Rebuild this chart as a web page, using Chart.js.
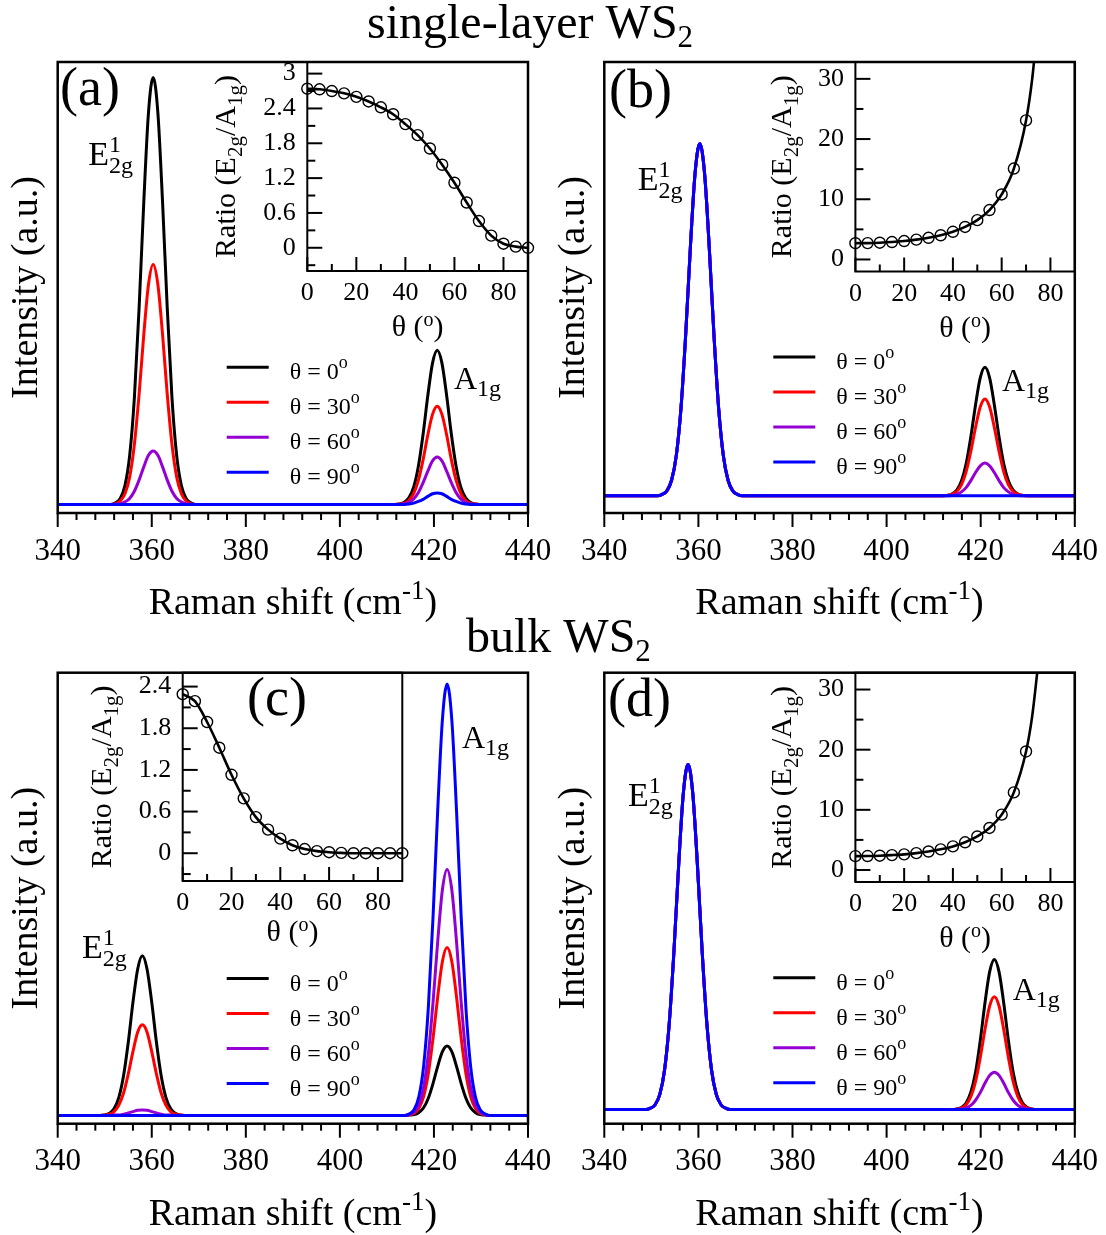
<!DOCTYPE html>
<html><head><meta charset="utf-8">
<script src="https://cdn.jsdelivr.net/npm/chart.js@4.4.1/dist/chart.umd.min.js"></script>
<style>
html,body{margin:0;padding:0;background:#fff;}
#wrap{position:relative;width:1106px;height:1235px;overflow:hidden;background:#fff;}
#wrap canvas{position:absolute;left:0;top:0;}
</style></head><body><div id="wrap"></div>
<script>
const FONT = '"Liberation Serif", "Times New Roman", serif';
const legendAngles = ['0', '30', '60', '90'];
const seriesColors = ['#000000', '#ff0000', '#9400d3', '#0000ff'];
const shiftTicks = [340, 360, 380, 400, 420, 440];
const thetaTicks = [0, 20, 40, 60, 80];

// ---- panel (a) single-layer, A1g at 420.7
const shiftA = [340, 351.3,352.3,353.3,354.3,355.3,356.3,357.3,358.3,359.3,360.3,361.3,362.3,363.3,364.3,365.3,366.3,367.3,368.3,369.3, 411.7,412.7,413.7,414.7,415.7,416.7,417.7,418.7,419.7,420.7,421.7,422.7,423.7,424.7,425.7,426.7,427.7,428.7,429.7, 440];
const a_t0  = [0, 0,.004,.014,.044,.114,.249,.458,.707,.917,1,.917,.707,.458,.249,.114,.044,.014,.004,0, 0,.001,.005,.016,.041,.090,.165,.255,.331,.361,.331,.255,.165,.090,.041,.016,.005,.001,0, 0];
const a_t30 = [0, 0,.002,.008,.025,.064,.140,.257,.397,.515,.562,.515,.397,.257,.140,.064,.025,.008,.002,0, 0,.001,.003,.010,.026,.057,.105,.163,.211,.230,.211,.163,.105,.057,.026,.010,.003,.001,0, 0];
const a_t60 = [0, 0,.001,.002,.006,.014,.031,.057,.088,.115,.125,.115,.088,.057,.031,.014,.006,.002,.001,0, 0,0,.002,.005,.013,.028,.051,.078,.102,.111,.102,.078,.051,.028,.013,.005,.002,0,0, 0];
const a_t90 = [0, 0,0,0,0,0,0,0,0,0,0,0,0,0,0,0,0,0,0,0, 0,0,0,.001,.003,.007,.012,.019,.025,.027,.025,.019,.012,.007,.003,.001,0,0,0, 0];

// ---- panel (b) single-layer
const shiftB = [340, 351.3,352.3,353.3,354.3,355.3,356.3,357.3,358.3,359.3,360.3,361.3,362.3,363.3,364.3,365.3,366.3,367.3,368.3,369.3, 411.9,412.9,413.9,414.9,415.9,416.9,417.9,418.9,419.9,420.9,421.9,422.9,423.9,424.9,425.9,426.9,427.9,428.9,429.9, 440];
const b_t0  = [0, 0,.004,.014,.044,.114,.249,.458,.707,.917,1,.917,.707,.458,.249,.114,.044,.014,.004,0, 0,.001,.005,.016,.042,.091,.167,.258,.335,.365,.335,.258,.167,.091,.042,.016,.005,.001,0, 0];
const b_t30 = [0, 0,.004,.014,.044,.114,.249,.458,.707,.917,1,.917,.707,.458,.249,.114,.044,.014,.004,0, 0,.001,.004,.012,.031,.068,.126,.194,.252,.275,.252,.194,.126,.068,.031,.012,.004,.001,0, 0];
const b_t60 = [0, 0,.004,.014,.044,.114,.249,.458,.707,.917,1,.917,.707,.458,.249,.114,.044,.014,.004,0, 0,0,.001,.004,.011,.023,.043,.066,.085,.093,.085,.066,.043,.023,.011,.004,.001,0,0, 0];
const b_t90 = [0, 0,.004,.014,.044,.114,.249,.458,.707,.917,1,.917,.707,.458,.249,.114,.044,.014,.004,0, 0,0,0,0,0,0,0,0,0,0,0,0,0,0,0,0,0,0,0, 0];

// ---- panel (c) bulk
const shiftC = [340, 349,350,351,352,353,354,355,356,357,358,359,360,361,362,363,364,365,366,367, 413.8,414.8,415.8,416.8,417.8,418.8,419.8,420.8,421.8,422.8,423.8,424.8,425.8,426.8,427.8,428.8,429.8,430.8,431.8, 440];
const c_t0  = [0, 0,.001,.005,.016,.042,.092,.169,.262,.339,.370,.339,.262,.169,.092,.042,.016,.005,.001,0, 0,.001,.002,.007,.018,.040,.074,.114,.148,.161,.148,.114,.074,.040,.018,.007,.002,.001,0, 0];
const c_t30 = [0, 0,.001,.003,.009,.024,.052,.096,.148,.193,.210,.193,.148,.096,.052,.024,.009,.003,.001,0, 0,.002,.005,.017,.044,.097,.178,.275,.357,.389,.357,.275,.178,.097,.044,.017,.005,.002,0, 0];
const c_t60 = [0, 0,0,0,.001,.001,.003,.006,.009,.012,.013,.012,.009,.006,.003,.001,.001,0,0,0, 0,.002,.008,.025,.065,.142,.261,.403,.523,.570,.523,.403,.261,.142,.065,.025,.008,.002,0, 0];
const c_t90 = [0, 0,0,0,0,0,0,0,0,0,0,0,0,0,0,0,0,0,0,0, 0,.004,.014,.044,.114,.249,.458,.707,.917,1,.917,.707,.458,.249,.114,.044,.014,.004,0, 0];

// ---- panel (d) bulk
const shiftD = [340, 348.8,349.8,350.8,351.8,352.8,353.8,354.8,355.8,356.8,357.8,358.8,359.8,360.8,361.8,362.8,363.8,364.8,365.8,366.8, 413.9,414.9,415.9,416.9,417.9,418.9,419.9,420.9,421.9,422.9,423.9,424.9,425.9,426.9,427.9,428.9,429.9,430.9,431.9, 440];
const d_t0  = [0, 0,.004,.014,.044,.114,.249,.458,.707,.917,1,.917,.707,.458,.249,.114,.044,.014,.004,0, 0,.002,.006,.019,.050,.108,.199,.308,.399,.435,.399,.308,.199,.108,.050,.019,.006,.002,0, 0];
const d_t30 = [0, 0,.004,.014,.044,.114,.249,.458,.707,.917,1,.917,.707,.458,.249,.114,.044,.014,.004,0, 0,.001,.005,.014,.037,.081,.150,.231,.300,.327,.300,.231,.150,.081,.037,.014,.005,.001,0, 0];
const d_t60 = [0, 0,.004,.014,.044,.114,.249,.458,.707,.917,1,.917,.707,.458,.249,.114,.044,.014,.004,0, 0,0,.002,.005,.012,.027,.049,.076,.099,.108,.099,.076,.049,.027,.012,.005,.002,0,0, 0];
const d_t90 = [0, 0,.004,.014,.044,.114,.249,.458,.707,.917,1,.917,.707,.458,.249,.114,.044,.014,.004,0, 0,0,0,0,0,0,0,0,0,0,0,0,0,0,0,0,0,0,0, 0];

// ---- insets: ratio E2g/A1g vs theta
const thetaAC = [0,5,10,15,20,25,30,35,40,45,50,55,60,65,70,75,80,85,90];
const ratioA  = [2.74,2.73,2.70,2.66,2.60,2.52,2.42,2.30,2.13,1.94,1.71,1.43,1.12,0.78,0.46,0.21,0.07,0.02,0.00];
const ratioC  = [2.29,2.19,1.89,1.52,1.13,0.79,0.52,0.34,0.21,0.115,0.06,0.03,0.015,0.005,0,0,0,0,0];
const thetaBD = [0,5,10,15,20,25,30,35,40,45,50,55,60,65,70];
const ratioB  = [2.70,2.72,2.78,2.89,3.06,3.29,3.60,4.02,4.60,5.40,6.53,8.21,10.8,15.1,23.1];
const ratioD  = [2.30,2.32,2.37,2.47,2.60,2.80,3.07,3.43,3.92,4.60,5.57,6.99,9.20,12.9,19.7];
const fitExtraTheta = [72.5, 75];
const fitExtraB = [29.9, 40.3];
const fitExtraD = [25.5, 34.3];
const yTicksA = [0, 0.6, 1.2, 1.8, 2.4, 3];
const yLabelsA = ['0', '0.6', '1.2', '1.8', '2.4', '3'];
const yTicksC = [0, 0.6, 1.2, 1.8, 2.4];
const yLabelsC = ['0', '0.6', '1.2', '1.8', '2.4'];
const yTicksBD = [0, 10, 20, 30];
const yLabelsBD = ['0', '10', '20', '30'];

// ---------------------------------------------------------------
const W = 1106, H = 1235;
const wrap = document.getElementById('wrap');
function newCanvas() {
  const c = document.createElement('canvas');
  c.width = W; c.height = H; c.style.width = W + 'px'; c.style.height = H + 'px';
  wrap.appendChild(c); return c;
}
function xy(xs, ys) { return xs.map((x, i) => ({ x: x, y: ys[i] })); }

function rich(ctx, x, y, parts, align) {
  let total = 0;
  const ws = parts.map(p => { ctx.font = p.s + 'px ' + FONT; const w = ctx.measureText(p.t).width; if (!p.hold) total += w; return w; });
  let cx = align === 'center' ? x - total / 2 : (align === 'right' ? x - total : x);
  ctx.textAlign = 'left'; ctx.textBaseline = 'alphabetic'; ctx.fillStyle = '#000';
  parts.forEach((p, i) => { ctx.font = p.s + 'px ' + FONT; ctx.fillText(p.t, cx, y + (p.dy || 0)); if (!p.hold) cx += ws[i]; });
}
function richRot(ctx, x, y, parts) {
  ctx.save(); ctx.translate(x, y); ctx.rotate(-Math.PI / 2); rich(ctx, 0, 0, parts, 'center'); ctx.restore();
}
function seg(ctx, x1, y1, x2, y2) { ctx.beginPath(); ctx.moveTo(x1, y1); ctx.lineTo(x2, y2); ctx.stroke(); }

const panels = [
  { L: 57.7, R: 528, T: 62, B: 513, ymin: -0.020, ymax: 1.036, shift: shiftA, series: [a_t0, a_t30, a_t60, a_t90],
    tag: { t: '(a)', x: 60, y: 105 }, E: { x: 88.3, y: 165 }, A: { x: 454, y: 389 }, legY: 367.3,
    head: { t: 'single-layer WS', x: 367, y: 38 } },
  { L: 604.3, R: 1074.8, T: 62, B: 513, ymin: -0.049, ymax: 1.232, shift: shiftB, series: [b_t0, b_t30, b_t60, b_t90],
    tag: { t: '(b)', x: 609, y: 107 }, E: { x: 637.7, y: 190 }, A: { x: 1002, y: 391 }, legY: 357 },
  { L: 57.7, R: 528, T: 672.7, B: 1123.7, ymin: -0.019, ymax: 1.026, shift: shiftC, series: [c_t0, c_t30, c_t60, c_t90],
    tag: { t: '(c)', x: 247, y: 715 }, E: { x: 81.9, y: 958 }, A: { x: 462, y: 748 }, legY: 978.5,
    head: { t: 'bulk WS', x: 466, y: 652 } },
  { L: 604.3, R: 1074.8, T: 672.7, B: 1123.7, ymin: -0.041, ymax: 1.266, shift: shiftD, series: [d_t0, d_t30, d_t60, d_t90],
    tag: { t: '(d)', x: 608, y: 716 }, E: { x: 628.1, y: 806 }, A: { x: 1012.7, y: 1000 }, legY: 977.8 }
];

panels.forEach(p => {
  const decor = {
    id: 'decor',
    afterDraw(chart) {
      const ctx = chart.ctx, a = chart.chartArea, xs = chart.scales.x;
      ctx.save();
      ctx.strokeStyle = '#000'; ctx.lineWidth = 2; ctx.lineCap = 'butt';
      for (let v = 340; v <= 440; v += 4) {
        const px = xs.getPixelForValue(v);
        const major = shiftTicks.indexOf(v) >= 0;
        seg(ctx, px, a.bottom, px, a.bottom + (major ? 14 : 7));
      }
      ctx.lineWidth = 2.5;
      ctx.strokeRect(a.left, a.top, a.right - a.left, a.bottom - a.top);
      // legend
      chart.data.datasets.forEach((ds, i) => {
        const y = p.legY + i * 35;
        ctx.strokeStyle = ds.borderColor; ctx.lineWidth = 3;
        seg(ctx, a.left + 169, y, a.left + 211, y);
        rich(ctx, a.left + 232, y + 12, [{ t: 'θ = ' + legendAngles[i], s: 24 }, { t: 'o', s: 18, dy: -11 }], 'left');
      });
      // labels
      rich(ctx, p.tag.x, p.tag.y, [{ t: p.tag.t, s: 54 }], 'left');
      rich(ctx, p.E.x, p.E.y, [{ t: 'E', s: 34 }, { t: '1', s: 24, dy: -13, hold: true }, { t: '2g', s: 24, dy: 8 }], 'left');
      rich(ctx, p.A.x, p.A.y, [{ t: 'A', s: 32 }, { t: '1g', s: 24, dy: 7 }], 'left');
      rich(ctx, (a.left + a.right) / 2, a.bottom + 101, [{ t: 'Raman shift (cm', s: 38 }, { t: '-1', s: 27, dy: -15 }, { t: ')', s: 38 }], 'center');
      richRot(ctx, a.left - 20.5, (a.top + a.bottom) / 2, [{ t: 'Intensity (a.u.)', s: 38 }]);
      if (p.head) rich(ctx, p.head.x, p.head.y, [{ t: p.head.t, s: 48 }, { t: '2', s: 31, dy: 9 }], 'left');
      ctx.restore();
    }
  };
  new Chart(newCanvas(), {
    type: 'line',
    data: {
      datasets: p.series.map((ys, i) => ({
        label: 'θ = ' + legendAngles[i] + '°', data: xy(p.shift, ys), borderColor: seriesColors[i],
        borderWidth: 3, pointRadius: 0, cubicInterpolationMode: 'monotone', fill: false, order: 4 - i
      }))
    },
    options: {
      responsive: false, animation: false, devicePixelRatio: 1,
      layout: { padding: { left: p.L, top: p.T, right: W - p.R, bottom: H - p.B - 60 } },
      plugins: { legend: { display: false }, tooltip: { enabled: false } },
      scales: {
        x: {
          type: 'linear', min: 340, max: 440,
          afterBuildTicks: s => { s.ticks = shiftTicks.map(v => ({ value: v })); },
          afterFit: s => { s.height = 60; },
          ticks: { font: { family: FONT, size: 31 }, color: '#000', padding: 0, maxRotation: 0, autoSkip: false },
          grid: { display: false, drawTicks: true, tickLength: 20 }, border: { display: false }
        },
        y: { type: 'linear', display: false, min: p.ymin, max: p.ymax }
      }
    },
    plugins: [decor]
  });
});

const insets = [
  { L: 307.3, R: 528, T: 62, B: 271, ymin: -0.4, ymax: 3.2, yt: yTicksA, yl: yLabelsA, minor: 0.3,
    th: thetaAC, r: ratioA, fth: thetaAC, fr: ratioA, tdx: 72.5, tdy: 65 },
  { L: 855.4, R: 1074.8, T: 62, B: 271.5, ymin: -2, ymax: 32.8, yt: yTicksBD, yl: yLabelsBD, minor: 5,
    th: thetaBD, r: ratioB, fth: thetaBD.concat(fitExtraTheta), fr: ratioB.concat(fitExtraB), tdx: 64.7, tdy: 65 },
  { L: 182.7, R: 402.3, T: 672.7, B: 881, ymin: -0.4, ymax: 2.6, yt: yTicksC, yl: yLabelsC, minor: 0.3,
    th: thetaAC, r: ratioC, fth: thetaAC, fr: ratioC, tdx: 72, tdy: 60 },
  { L: 855.4, R: 1074.8, T: 672.7, B: 882, ymin: -2, ymax: 32.8, yt: yTicksBD, yl: yLabelsBD, minor: 5,
    th: thetaBD, r: ratioD, fth: thetaBD.concat(fitExtraTheta), fr: ratioD.concat(fitExtraD), tdx: 64.7, tdy: 65 }
];

insets.forEach(q => {
  const decor = {
    id: 'insetDecor',
    afterDraw(chart) {
      const ctx = chart.ctx, a = chart.chartArea, xs = chart.scales.x, ys = chart.scales.y;
      ctx.save();
      ctx.strokeStyle = '#000'; ctx.lineWidth = 2;
      for (let v = 0; v <= 80; v += 10) {
        const px = xs.getPixelForValue(v);
        seg(ctx, px, a.bottom, px, a.bottom - (v % 20 === 0 ? 14 : 7));
      }
      const k0 = Math.ceil(q.ymin / q.minor - 1e-6), k1 = Math.floor(q.ymax / q.minor + 1e-6);
      for (let k = k0; k <= k1; k++) {
        const py = ys.getPixelForValue(k * q.minor);
        seg(ctx, a.left, py, a.left + (k % 2 === 0 ? 15 : 8), py);
      }
      ctx.strokeRect(a.left, a.top, a.right - a.left, a.bottom - a.top);
      rich(ctx, (a.left + a.right) / 2, a.bottom + q.tdy, [{ t: 'θ (', s: 30 }, { t: 'o', s: 20, dy: -10 }, { t: ')', s: 30 }], 'center');
      richRot(ctx, a.left - q.tdx, (a.top + a.bottom) / 2,
        [{ t: 'Ratio (E', s: 30 }, { t: '2g', s: 21, dy: 7 }, { t: '/A', s: 30 }, { t: '1g', s: 21, dy: 7 }, { t: ')', s: 30 }]);
      ctx.restore();
    }
  };
  new Chart(newCanvas(), {
    type: 'line',
    data: {
      datasets: [
        { label: 'fit', data: xy(q.fth, q.fr), borderColor: '#000', borderWidth: 2.6, pointRadius: 0,
          cubicInterpolationMode: 'monotone', fill: false, order: 2 },
        { label: 'ratio', data: xy(q.th, q.r), showLine: false, borderColor: '#000', backgroundColor: 'rgba(0,0,0,0)',
          pointRadius: 5.5, pointBorderWidth: 1.4, pointStyle: 'circle', clip: false, order: 1 }
      ]
    },
    options: {
      responsive: false, animation: false, devicePixelRatio: 1,
      layout: { padding: { left: q.L - 60, top: q.T, right: W - q.R, bottom: H - q.B - 40 } },
      plugins: { legend: { display: false }, tooltip: { enabled: false } },
      scales: {
        x: {
          type: 'linear', min: 0, max: 90,
          afterBuildTicks: s => { s.ticks = thetaTicks.map(v => ({ value: v })); },
          afterFit: s => { s.height = 40; },
          ticks: { font: { family: FONT, size: 26 }, color: '#000', padding: 0, maxRotation: 0, autoSkip: false },
          grid: { display: false, drawTicks: true, tickLength: 7 }, border: { display: false }
        },
        y: {
          type: 'linear', min: q.ymin, max: q.ymax,
          afterBuildTicks: s => { s.ticks = q.yt.map(v => ({ value: v })); },
          afterFit: s => { s.width = 60; },
          ticks: { font: { family: FONT, size: 26 }, color: '#000', padding: 11.5, autoSkip: false,
                   callback: (v, i) => q.yl[i] },
          grid: { display: false, drawTicks: false }, border: { display: false }
        }
      }
    },
    plugins: [decor]
  });
});
</script></body></html>
